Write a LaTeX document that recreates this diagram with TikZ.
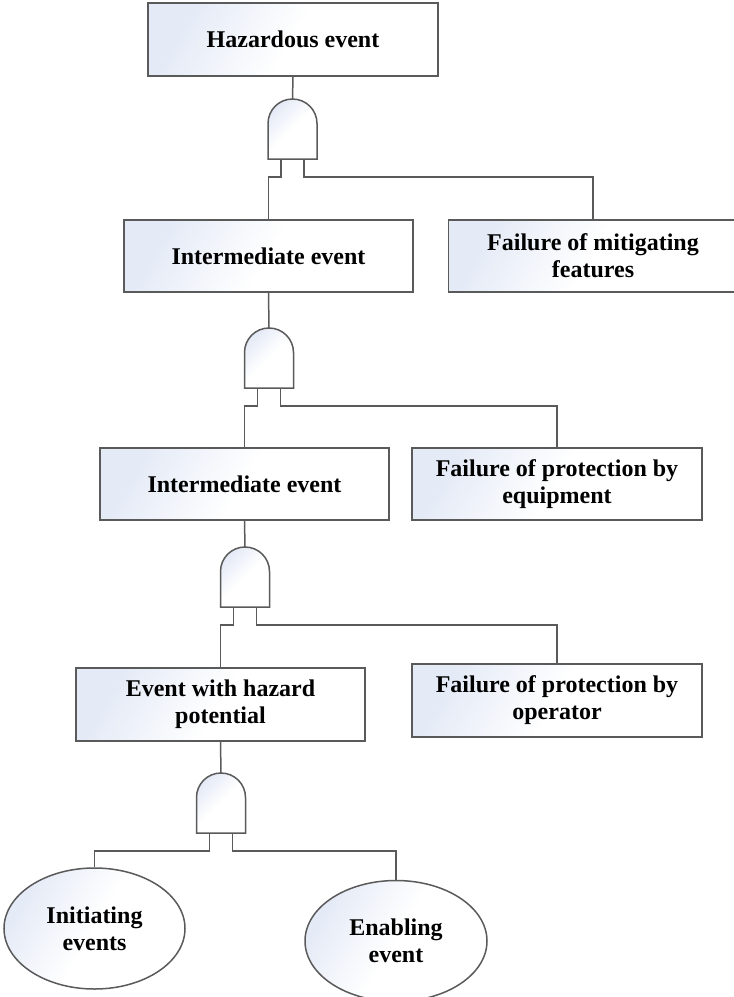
\documentclass[tikz,border=0pt]{standalone}
\usepackage{fontspec}
\setmainfont{Liberation Serif}
\usetikzlibrary{shapes.geometric}
\definecolor{linec}{HTML}{5A5A5A}
\definecolor{fillb}{HTML}{E4EAF6}
\tikzset{
  ebox/.style={draw=linec, line width=1.5pt, top color=fillb, bottom color=white, middle color=white, shading angle=60,
    inner sep=0pt, align=center, font=\bfseries\fontsize{24}{27}\selectfont},
  eell/.style={ebox, ellipse},
  conn/.style={draw=linec, line width=1.5pt},
  gatest/.style={draw=linec, line width=1.5pt, top color=fillb, bottom color=white, middle color=white, shading angle=45, line join=miter}
}
\newcommand\andgate[3]{%
  \coordinate (#1-top) at (#2,#3);
  \shade[gatest] (#2-24.5,#3+60) -- (#2-24.5,#3+24.5) arc[start angle=180,end angle=0,radius=24.5pt] -- (#2+24.5,#3+60) -- cycle;
  \coordinate (#1-l) at (#2-11.5,#3+60);
  \coordinate (#1-r) at (#2+11.5,#3+60);
}
\begin{document}
\begin{tikzpicture}[x=1pt,y=-1pt]
\useasboundingbox (0,0) rectangle (734,997);
% events
\node[ebox, minimum width=290pt, minimum height=73pt] (b1) at (293,39.5) {Hazardous event};
\node[ebox, minimum width=289pt, minimum height=72pt] (b2) at (268.5,256) {Intermediate event};
\node[ebox, minimum width=289pt, minimum height=72pt] (m1) at (593,256) {Failure of mitigating\\features};
\node[ebox, minimum width=289pt, minimum height=72pt] (b3) at (244.5,484) {Intermediate event};
\node[ebox, minimum width=290pt, minimum height=72pt] (m2) at (557,484) {Failure of protection by\\equipment};
\node[ebox, minimum width=289pt, minimum height=73pt] (b4) at (220.5,704.5) {Event with hazard\\potential};
\node[ebox, minimum width=290pt, minimum height=73pt] (m3) at (557,700.5) {Failure of protection by\\operator};
\node[eell, minimum width=181pt, minimum height=121pt] (e1) at (94.5,928.5) {Initiating\\events};
\node[eell, minimum width=182pt, minimum height=121pt] (e2) at (396,941) {Enabling\\event};
% gates
\andgate{g1}{292.5}{99}
\andgate{g2}{269}{328}
\andgate{g3}{245}{547}
\andgate{g4}{221}{773}
% connectors
\draw[conn] (b1.south) -- (g1-top);
\draw[conn] (g1-l) -- ++(0,18) -| (b2.north);
\draw[conn] (g1-r) -- ++(0,18) -| (m1.north);
\draw[conn] (b2.south) -- (g2-top);
\draw[conn] (g2-l) -- ++(0,18) -| (b3.north);
\draw[conn] (g2-r) -- ++(0,18) -| (m2.north);
\draw[conn] (b3.south) -- (g3-top);
\draw[conn] (g3-l) -- ++(0,18) -| (b4.north);
\draw[conn] (g3-r) -- ++(0,18) -| (m3.north);
\draw[conn] (b4.south) -- (g4-top);
\draw[conn] (g4-l) -- ++(0,18) -| (e1.north);
\draw[conn] (g4-r) -- ++(0,18) -| (e2.north);
\end{tikzpicture}
\end{document}
